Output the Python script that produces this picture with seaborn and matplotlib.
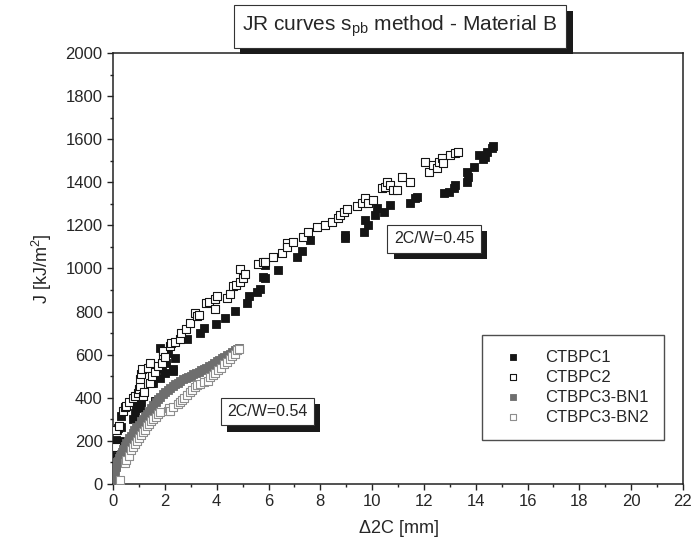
import numpy as np
import pandas as pd
import matplotlib
matplotlib.use('Agg')
import matplotlib.pyplot as plt
import matplotlib.patheffects as pe
import seaborn as sns

# CTBPC1 (filled black)
c1_x = [0.05, 0.08, 0.10, 0.13, 0.15, 0.19, 0.26, 0.30, 0.32, 0.77, 0.84, 0.90, 0.90, 1.03, 1.03, 1.09,
        1.48, 1.54, 1.61, 1.80, 1.87, 1.80, 2.00, 2.06, 2.12, 2.32, 2.32, 2.38, 2.86, 3.35, 3.50, 3.99,
        4.31, 4.70, 5.15, 5.25, 5.55, 5.66, 5.79, 5.86, 5.87, 6.38, 7.09, 7.29, 7.61, 8.96, 8.96, 9.67,
        9.73, 9.86, 10.12, 10.18, 10.44, 10.70, 11.47, 11.66, 11.72, 12.76, 12.95, 13.15, 13.20, 13.66,
        13.72, 13.66, 13.92, 14.11, 14.30, 14.37, 14.43, 14.62, 14.65]
c1_y = [130, 180, 100, 206, 250, 260, 200, 265, 315, 300, 331, 361, 408, 354, 400, 380,
        469, 470, 385, 492, 532, 633, 515, 563, 609, 523, 532, 586, 671, 702, 722, 741,
        769, 803, 842, 873, 892, 905, 961, 1016, 954, 993, 1055, 1079, 1133, 1141, 1157, 1171,
        1225, 1202, 1248, 1279, 1264, 1295, 1302, 1325, 1333, 1349, 1357, 1372, 1388, 1403,
        1426, 1449, 1473, 1527, 1510, 1519, 1542, 1558, 1570]

# CTBPC2 (open black)
c2_x = [0.10, 0.13, 0.22, 0.40, 0.45, 0.51, 0.60, 0.75, 0.85, 0.97, 1.00, 1.03, 1.03, 1.09, 1.10, 1.16,
        1.20, 1.35, 1.42, 1.42, 1.50, 1.60, 1.75, 1.87, 1.93, 1.93, 2.00, 2.19, 2.25, 2.40, 2.57, 2.64,
        2.83, 2.96, 3.15, 3.25, 3.32, 3.60, 3.70, 3.93, 3.93, 4.00, 4.38, 4.50, 4.63, 4.75, 4.89, 4.89,
        5.02, 5.10, 5.60, 5.79, 5.87, 6.19, 6.51, 6.70, 6.70, 6.96, 7.34, 7.54, 7.86, 8.18, 8.44, 8.70,
        8.77, 8.90, 9.02, 9.41, 9.60, 9.73, 9.85, 10.05, 10.37, 10.50, 10.56, 10.70, 10.82, 10.95, 11.14,
        11.47, 12.05, 12.18, 12.37, 12.50, 12.57, 12.69, 12.75, 13.00, 13.20, 13.33]
c2_y = [170, 250, 268, 340, 355, 361, 380, 400, 410, 423, 440, 454, 485, 508, 532, 408,
        425, 540, 563, 470, 500, 520, 545, 563, 600, 617, 590, 640, 656, 660, 671, 702,
        718, 749, 795, 780, 785, 842, 845, 857, 811, 870, 865, 880, 919, 925, 935, 997,
        958, 975, 1021, 1029, 1032, 1055, 1070, 1117, 1100, 1125, 1148, 1171, 1194, 1202, 1217, 1233,
        1248, 1264, 1275, 1290, 1302, 1325, 1302, 1318, 1372, 1380, 1403, 1388, 1364, 1364, 1426,
        1403, 1496, 1449, 1480, 1465, 1496, 1511, 1490, 1527, 1535, 1542]

# CTBPC3-BN1 (filled grey)
b1_x = [0.02, 0.05, 0.08, 0.10, 0.13, 0.16, 0.19, 0.22, 0.26, 0.30, 0.34, 0.39, 0.44, 0.50, 0.56, 0.62,
        0.68, 0.75, 0.82, 0.90, 0.98, 1.06, 1.14, 1.22, 1.30, 1.38, 1.46, 1.55, 1.64, 1.73, 1.82, 1.91,
        2.00, 2.10, 2.20, 2.30, 2.40, 2.50, 2.60, 2.70, 2.80, 2.90, 3.00, 3.10, 3.20, 3.30, 3.40, 3.50,
        3.60, 3.70, 3.80, 3.90, 4.00, 4.10, 4.20, 4.30, 4.40, 4.50, 4.60, 4.70, 4.78, 4.85]
b1_y = [20, 45, 62, 78, 88, 100, 108, 118, 128, 140, 150, 162, 175, 188, 200, 212,
        222, 235, 248, 262, 275, 290, 302, 316, 326, 338, 350, 364, 378, 392, 405, 418,
        428, 438, 446, 454, 462, 470, 478, 486, 492, 497, 502, 508, 514, 520, 527, 533,
        540, 547, 554, 562, 570, 577, 584, 591, 598, 605, 612, 620, 627, 633]

# CTBPC3-BN2 (open grey)
b2_x = [0.26, 0.45, 0.50, 0.60, 0.70, 0.78, 0.85, 0.92, 1.00, 1.08, 1.15, 1.22, 1.30, 1.38, 1.46, 1.55,
        1.65, 1.75, 1.82, 2.10, 2.15, 2.19, 2.30, 2.50, 2.60, 2.65, 2.75, 2.85, 2.95, 3.05, 3.15, 3.25,
        3.35, 3.50, 3.65, 3.75, 3.85, 3.95, 4.05, 4.15, 4.30, 4.40, 4.50, 4.60, 4.70, 4.80, 4.85]
b2_y = [20, 95, 110, 130, 155, 170, 185, 200, 215, 228, 240, 252, 268, 280, 290, 300,
        312, 325, 335, 340, 352, 338, 358, 370, 378, 390, 400, 412, 425, 438, 448, 458,
        465, 472, 478, 495, 505, 515, 530, 540, 555, 565, 580, 592, 605, 620, 628]

sns.set_style('ticks')
plt.rcParams['font.family'] = ['Liberation Sans', 'DejaVu Sans']
plt.rcParams['mathtext.fontset'] = 'custom'
plt.rcParams['mathtext.rm'] = 'Liberation Sans'
plt.rcParams['mathtext.it'] = 'Liberation Sans'

fig = plt.figure(figsize=(6.94, 5.53), dpi=100)
ax = fig.add_axes([0.163, 0.125, 0.821, 0.779])

ms = 28
sns.scatterplot(x=c1_x, y=c1_y, ax=ax, marker='s', s=ms, color='#151515',
                edgecolor='#151515', linewidth=0.6, label='CTBPC1', zorder=3)
sns.scatterplot(x=c2_x, y=c2_y, ax=ax, marker='s', s=ms, facecolor='white',
                edgecolor='#151515', linewidth=0.8, label='CTBPC2', zorder=3)
sns.scatterplot(x=b1_x, y=b1_y, ax=ax, marker='s', s=ms, color='#6e6e6e',
                edgecolor='#6e6e6e', linewidth=0.6, label='CTBPC3-BN1', zorder=3)
sns.scatterplot(x=b2_x, y=b2_y, ax=ax, marker='s', s=ms, facecolor='white',
                edgecolor='#8e8e8e', linewidth=0.8, label='CTBPC3-BN2', zorder=3)

ax.set_xlim(0, 22)
ax.set_ylim(0, 2000)
ax.set_xticks(np.arange(0, 23, 2))
ax.set_xticks(np.arange(0, 23, 1), minor=True)
ax.set_yticks(np.arange(0, 2001, 200))
ax.set_yticks(np.arange(0, 2001, 100), minor=True)
ax.tick_params(which='major', direction='out', length=4, width=1, labelsize=12, color='#222222')
ax.tick_params(which='minor', direction='out', length=2.5, width=1, color='#222222')
for sp in ax.spines.values():
    sp.set_linewidth(1.1)
    sp.set_color('#222222')

ax.set_xlabel(r'$\Delta$2C [mm]', fontsize=13, labelpad=6)
ax.set_ylabel(r'J [kJ/m$^2$]', fontsize=13, labelpad=8)

leg = ax.legend(loc='upper left', bbox_to_anchor=(0.647, 0.346), borderaxespad=0,
                frameon=True, fancybox=False, edgecolor='#222222', fontsize=12,
                borderpad=0.9, handletextpad=0.9, labelspacing=0.3, markerscale=0.7)
leg.get_frame().set_linewidth(1.0)

shadow = [pe.SimplePatchShadow(offset=(4.5, -4.5), shadow_rgbFace='#1a1a1a', alpha=1), pe.Normal()]

t1 = ax.text(12.39, 1137, '2C/W=0.45', fontsize=11.5, ha='center', va='center', zorder=5,
             bbox=dict(boxstyle='square,pad=0.4', fc='white', ec='#333333', lw=0.8))
t1.get_bbox_patch().set_path_effects(shadow)
t2 = ax.text(5.95, 336, '2C/W=0.54', fontsize=11.5, ha='center', va='center', zorder=5,
             bbox=dict(boxstyle='square,pad=0.4', fc='white', ec='#333333', lw=0.8))
t2.get_bbox_patch().set_path_effects(shadow)

tt = fig.text(0.576, 0.952, r'JR curves s$_{\mathrm{pb}}$ method - Material B', fontsize=15,
              ha='center', va='center',
              bbox=dict(boxstyle='square,pad=0.42', fc='white', ec='#333333', lw=0.8))
tt.get_bbox_patch().set_path_effects([pe.SimplePatchShadow(offset=(5, -4.5), shadow_rgbFace='#1a1a1a', alpha=1),
                                      pe.Normal()])

fig.savefig('out.png', dpi=100)
